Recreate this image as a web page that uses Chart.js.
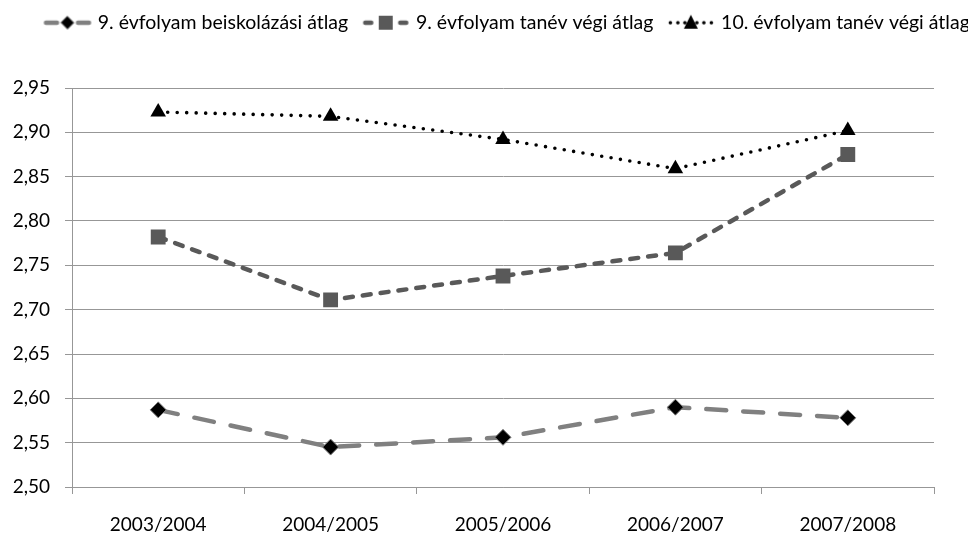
<!DOCTYPE html>
<html><head><meta charset="utf-8">
<script src="https://cdn.jsdelivr.net/npm/chart.js@4.4.1/dist/chart.umd.min.js"></script>
<style>html,body{margin:0;padding:0;background:#fff;}#wrap{width:968px;height:533px;}</style>
</head><body><div id="wrap"><canvas id="c" width="968" height="533"></canvas></div>
<script>
const categories = ['2003/2004', '2004/2005', '2005/2006', '2006/2007', '2007/2008'];
const seriesNames = ['9. évfolyam beiskolázási átlag', '9. évfolyam tanév végi átlag', '10. évfolyam tanév végi átlag'];
const beiskolazasi9 = [2.587, 2.545, 2.556, 2.590, 2.578];
const tanevVegi9 = [2.782, 2.711, 2.738, 2.764, 2.875];
const tanevVegi10 = [2.923, 2.918, 2.892, 2.859, 2.902];
const yTickLabels = ['2,50', '2,55', '2,60', '2,65', '2,70', '2,75', '2,80', '2,85', '2,90', '2,95'];

const FONT = 'Lato, "Liberation Sans", sans-serif';
const GRID = '#979797';

function makeIcon(kind) {
  const c = document.createElement('canvas');
  c.width = 60; c.height = 18;
  const g = c.getContext('2d');
  const y = 9, o = 7.5, m = o + 24.5;
  g.lineCap = 'round';
  if (kind === 0) {
    g.strokeStyle = '#808080'; g.lineWidth = 4.5;
    g.beginPath(); g.moveTo(o + 3, y); g.lineTo(o + 14, y); g.moveTo(o + 35, y); g.lineTo(o + 46, y); g.stroke();
    g.beginPath(); g.moveTo(m, y - 6.5); g.lineTo(m + 6.5, y); g.lineTo(m, y + 6.5); g.lineTo(m - 6.5, y); g.closePath();
    g.fillStyle = '#000'; g.fill(); g.strokeStyle = '#808080'; g.lineWidth = 1; g.stroke();
  } else if (kind === 1) {
    g.strokeStyle = '#595959'; g.lineWidth = 4.5;
    g.beginPath(); g.moveTo(o + 4, y); g.lineTo(o + 10, y); g.moveTo(o + 39, y); g.lineTo(o + 45, y); g.stroke();
    g.fillStyle = '#595959'; g.fillRect(m - 7, y - 7, 14, 14);
  } else {
    g.fillStyle = '#000';
    [4, 11.5, 18.5, 30.5, 37.5, 45].forEach(x => { g.beginPath(); g.arc(o + x, y, 1.8, 0, Math.PI * 2); g.fill(); });
    g.beginPath(); g.moveTo(m, y - 8); g.lineTo(m + 7, y + 6); g.lineTo(m - 7, y + 6); g.closePath(); g.fill();
  }
  return c;
}
const icons = [makeIcon(0), makeIcon(1), makeIcon(2)];

const legendSpacer = {
  id: 'legendSpacer',
  beforeInit(chart) {
    const orig = chart.legend.fit;
    chart.legend.fit = function () { this.maxWidth = 2000; orig.call(this); this.height = 88; };
  },
  afterLayout(chart) {
    chart.legend.left = 30;
    chart.legend.right = 1030;
  }
};

new Chart(document.getElementById('c'), {
  type: 'line',
  data: {
    labels: categories,
    datasets: [
      {
        label: seriesNames[0], data: beiskolazasi9,
        borderColor: '#808080', borderWidth: 4.5, borderDash: [20, 17], borderCapStyle: 'round',
        pointStyle: 'rectRot', pointRadius: 8, pointBackgroundColor: '#000', pointBorderColor: '#808080', pointBorderWidth: 1,
        tension: 0, fill: false, order: 3
      },
      {
        label: seriesNames[1], data: tanevVegi9,
        borderColor: '#595959', borderWidth: 4.5, borderDash: [8, 10], borderCapStyle: 'round',
        pointStyle: 'rect', pointRadius: 10.5, pointBackgroundColor: '#595959', pointBorderColor: '#595959', pointBorderWidth: 0,
        tension: 0, fill: false, order: 2
      },
      {
        label: seriesNames[2], data: tanevVegi10,
        borderColor: '#000', borderWidth: 3.6, borderDash: [0, 9.5], borderCapStyle: 'round',
        pointStyle: 'triangle', pointRadius: 9, pointBackgroundColor: '#000', pointBorderColor: '#000', pointBorderWidth: 0,
        tension: 0, fill: false, order: 1
      }
    ]
  },
  options: {
    responsive: false,
    animation: false,
    devicePixelRatio: 1,
    layout: { padding: { left: 0, right: 34, top: 0, bottom: 0 } },
    plugins: {
      tooltip: { enabled: false },
      legend: {
        position: 'top',
        align: 'start',
        labels: {
          usePointStyle: true,
          pointStyleWidth: 45,
          boxHeight: 16,
          padding: 13,
          color: '#000',
          font: { family: FONT, size: 19.5 },
          generateLabels(chart) {
            return chart.data.datasets.map((ds, i) => ({
              text: ds.label, pointStyle: icons[i], fillStyle: 'transparent', strokeStyle: 'transparent',
              lineWidth: 0, hidden: false, datasetIndex: i, fontColor: '#000'
            }));
          }
        }
      }
    },
    scales: {
      x: {
        offset: true,
        grid: { display: true, drawOnChartArea: false, drawTicks: true, tickLength: 7, offset: true, color: GRID, lineWidth: 1 },
        border: { display: true, color: GRID, width: 1 },
        ticks: { color: '#000', font: { family: FONT, size: 19 }, padding: 19, maxRotation: 0 },
        afterFit(scale) { scale.height = 46; }
      },
      y: {
        min: 2.5, max: 2.95,
        grid: { color: GRID, lineWidth: 1, tickLength: 7, drawTicks: true },
        border: { display: true, color: GRID, width: 1 },
        ticks: {
          stepSize: 0.05, color: '#000', font: { family: FONT, size: 19 }, padding: 15,
          callback: (v, i) => yTickLabels[i]
        },
        afterFit(scale) { scale.width = 72; }
      }
    }
  },
  plugins: [legendSpacer]
});
</script></body></html>
